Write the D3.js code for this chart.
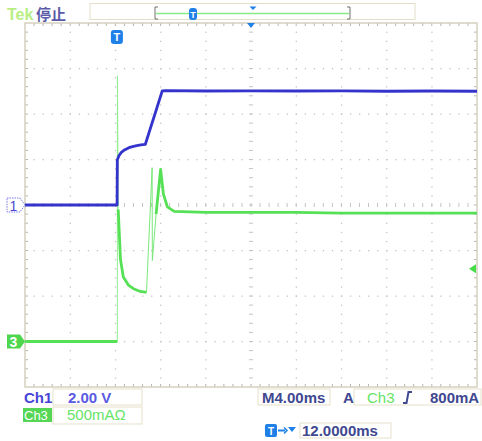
<!DOCTYPE html>
<html>
<head>
<meta charset="utf-8">
<script src="https://cdn.jsdelivr.net/npm/d3@7"></script>
<style>
  body { margin: 0; background: #fff; }
  svg { display: block; font-family: "Liberation Sans", Arial, sans-serif; }
</style>
</head>
<body>
<svg id="scope" width="482" height="441"></svg>
<script>
// scope settings
const timePerDiv = 4;      // ms/div
const triggerDelay = 12;   // ms, centre of screen after trigger
const ch1PerDiv = 2;       // V/div
const ch1Offset = 0;       // div
const ch3PerDiv = 0.5;     // A/div
const ch3Offset = -3;      // div
const triggerLevel = 0.8;  // A on ch3
const hDivs = 10, vDivs = 8;

// Ch1 voltage (V) vs time (ms from trigger)
const ch1Time  = [-8, -4, 0, 0.15, 0.17, 0.3, 0.5, 0.8, 1.2, 1.6, 2.0, 2.4, 2.65, 3.0, 3.5, 4.15, 4.4, 8, 12, 16, 20, 24, 28, 32];
const ch1Volts = [0, 0, 0, 0, 1.98, 2.15, 2.3, 2.42, 2.52, 2.58, 2.62, 2.65, 2.67, 3.22, 4.0, 5.02, 5.03, 5.01, 5.02, 5.01, 5.02, 5.0, 5.01, 5.0];

// Ch3 current (A) vs time (ms), null = gap in the thick trace
const ch3Time = [-8, -4, 0, 0.17, null, 0.25, 0.45, 0.7, 1.15, 1.6, 2.2, 2.75, null, 3.6, 4.0, 4.25, 4.6, 5.2, 8, 12, 16, 20, 24, 28, 32];
const ch3Amps = [0, 0, 0, 0, null, 1.45, 0.9, 0.71, 0.62, 0.58, 0.55, 0.54, null, 1.4, 1.89, 1.62, 1.48, 1.43, 1.42, 1.42, 1.42, 1.41, 1.41, 1.41, 1.41];

// thin transient strokes on Ch3
const glitchTime = [0.17, 0.18, 0.25];
const glitchAmps = [0, 2.92, 1.45];
const glitch2Time = [2.75, 3.25, 3.27, 3.6];
const glitch2Amps = [0.54, 1.91, 0.89, 1.4];

const L = 25, R = 477, T = 23, B = 387;
const svg = d3.select("#scope");

const t0 = triggerDelay - timePerDiv * hDivs / 2;
const x = d3.scaleLinear().domain([t0, t0 + timePerDiv * hDivs]).range([L, R]);
const y1 = d3.scaleLinear()
  .domain([(-vDivs / 2 - ch1Offset) * ch1PerDiv, (vDivs / 2 - ch1Offset) * ch1PerDiv])
  .range([B, T]);
const y3 = d3.scaleLinear()
  .domain([(-vDivs / 2 - ch3Offset) * ch3PerDiv, (vDivs / 2 - ch3Offset) * ch3PerDiv])
  .range([B, T]);

// grid in division units
const gx = d3.scaleLinear().domain([0, hDivs]).range([L, R]);
const gy = d3.scaleLinear().domain([0, vDivs]).range([T, B]);
const grid = svg.append("g");
const dotColor = "#c4c4c4";

// dotted lines
d3.range(1, hDivs).filter(i => i !== hDivs / 2).forEach(i => {
  d3.range(0.2, vDivs, 0.2).forEach(j => {
    grid.append("rect").attr("x", gx(i) - 0.5).attr("y", gy(j) - 0.5)
      .attr("width", 1.3).attr("height", 1.3).attr("fill", dotColor);
  });
});
d3.range(1, vDivs).filter(j => j !== vDivs / 2).forEach(j => {
  d3.range(0.2, hDivs, 0.2).forEach(i => {
    grid.append("rect").attr("x", gx(i) - 0.5).attr("y", gy(j) - 0.5)
      .attr("width", 1.3).attr("height", 1.3).attr("fill", dotColor);
  });
});
// centre cross ticks
d3.range(0.2, hDivs, 0.2).forEach(i => {
  grid.append("line").attr("x1", gx(i)).attr("x2", gx(i))
    .attr("y1", gy(vDivs / 2) - 2).attr("y2", gy(vDivs / 2) + 2)
    .attr("stroke", dotColor);
});
d3.range(0.2, vDivs, 0.2).forEach(j => {
  grid.append("line").attr("y1", gy(j)).attr("y2", gy(j))
    .attr("x1", gx(hDivs / 2) - 2).attr("x2", gx(hDivs / 2) + 2)
    .attr("stroke", dotColor);
});
// border ticks
d3.range(0.2, hDivs, 0.2).forEach(i => {
  grid.append("line").attr("x1", gx(i)).attr("x2", gx(i)).attr("y1", T).attr("y2", T + 3).attr("stroke", "#b8b4a8");
  grid.append("line").attr("x1", gx(i)).attr("x2", gx(i)).attr("y1", B).attr("y2", B - 3).attr("stroke", "#b8b4a8");
});
d3.range(0.2, vDivs, 0.2).forEach(j => {
  grid.append("line").attr("y1", gy(j)).attr("y2", gy(j)).attr("x1", L).attr("x2", L + 3).attr("stroke", "#b8b4a8");
  grid.append("line").attr("y1", gy(j)).attr("y2", gy(j)).attr("x1", R).attr("x2", R - 3).attr("stroke", "#b8b4a8");
});
grid.append("rect").attr("x", L).attr("y", T).attr("width", R - L).attr("height", B - T)
  .attr("fill", "none").attr("stroke", "#d6d0c0").attr("stroke-width", 1.5);

// traces
const blue = "#3434cc", green = "#55e055";
const zip = (ts, vs) => ts.map((t, i) => ({ t, v: vs[i] }));

const line1 = d3.line().x(d => x(d.t)).y(d => y1(d.v));
const line3 = d3.line().defined(d => d.t !== null).x(d => x(d.t)).y(d => y3(d.v));

svg.append("path").datum(zip(glitchTime, glitchAmps))
  .attr("d", line3).attr("fill", "none").attr("stroke", "#8ef08e").attr("stroke-width", 1);
svg.append("path").datum(zip(glitch2Time, glitch2Amps))
  .attr("d", line3).attr("fill", "none").attr("stroke", "#7ae87a").attr("stroke-width", 1);
svg.append("path").datum(zip(ch3Time, ch3Amps))
  .attr("d", line3).attr("fill", "none").attr("stroke", green).attr("stroke-width", 2.8)
  .attr("stroke-linejoin", "round");
svg.append("path").datum(zip(ch1Time, ch1Volts))
  .attr("d", line1).attr("fill", "none").attr("stroke", blue).attr("stroke-width", 2.8)
  .attr("stroke-linejoin", "round");

// channel ground markers
const y1g = y1(0), y3g = y3(0);
svg.append("path").attr("d", `M7,${y1g - 7}H20L25,${y1g}L20,${y1g + 7}H7Z`)
  .attr("fill", "#fff").attr("stroke", "#7a7ae6").attr("stroke-dasharray", "1.5,1");
svg.append("text").attr("x", 13.5).attr("y", y1g + 5.5).attr("text-anchor", "middle")
  .attr("font-size", 14).attr("fill", "#4a4ad0").text("1");
svg.append("path").attr("d", `M7,${y3g - 7}H20L25,${y3g}L20,${y3g + 7}H7Z`).attr("fill", "#4fd64f");
svg.append("text").attr("x", 13.5).attr("y", y3g + 5.5).attr("text-anchor", "middle")
  .attr("font-size", 14).attr("font-weight", "bold").attr("fill", "#fff").text("3");

// trigger level marker (right edge)
const yt = y3(triggerLevel);
svg.append("path").attr("d", `M469,${yt}L476,${yt - 4.5}V${yt + 4.5}Z`).attr("fill", "#44dd44");

// trigger position marker
const tBlue = "#1f80e8";
function tMark(cx, cy, w, h) {
  svg.append("rect").attr("x", cx - w / 2).attr("y", cy - h / 2).attr("width", w).attr("height", h)
    .attr("rx", 3).attr("fill", tBlue);
  svg.append("text").attr("x", cx).attr("y", cy + 4).attr("text-anchor", "middle")
    .attr("font-size", 11).attr("font-weight", "bold").attr("fill", "#fff").text("T");
}
tMark(x(0) + 1.5, 37, 12, 14);
// centre marker on top border
svg.append("path").attr("d", `M${gx(5) - 4},23H${gx(5) + 4}L${gx(5)},28Z`).attr("fill", tBlue);

// top record bar
svg.append("text").attr("x", 7).attr("y", 20).attr("font-size", 16).attr("font-weight", "bold")
  .attr("fill", "#b8ee84").text("Tek");
svg.append("text").attr("x", 36).attr("y", 20).attr("font-size", 15).attr("font-weight", "bold")
  .attr("font-family", "Noto Sans CJK SC").attr("fill", "#5a5aa8").text("停止");
svg.append("rect").attr("x", 90).attr("y", 3.5).attr("width", 325).attr("height", 16)
  .attr("fill", "#fff").attr("stroke", "#e4ddc8");
svg.append("path").attr("d", "M158,7H155V19H158M347,7H350V19H347").attr("fill", "none").attr("stroke", "#707070");
svg.append("line").attr("x1", 156).attr("x2", 349).attr("y1", 13.5).attr("y2", 13.5)
  .attr("stroke", "#86ec86").attr("stroke-width", 1.5);
svg.append("rect").attr("x", 189).attr("y", 8).attr("width", 8).attr("height", 12).attr("rx", 3).attr("fill", tBlue);
svg.append("text").attr("x", 193).attr("y", 17.5).attr("text-anchor", "middle").attr("font-size", 9)
  .attr("font-weight", "bold").attr("fill", "#fff").text("T");
svg.append("path").attr("d", "M249.5,6.5H256.5L253,10Z").attr("fill", tBlue);

// readouts
const readBox = (x0, y0, w, h) => svg.append("rect").attr("x", x0).attr("y", y0).attr("width", w).attr("height", h)
  .attr("fill", "none").attr("stroke", "#e6dfca");
readBox(53, 389, 89, 16);
readBox(53, 407, 89, 17);
readBox(258, 389, 72, 16);
readBox(354, 389, 127, 16);
readBox(300, 423, 91, 15);

const txt = (x0, y0, s, c, extra) => {
  const t = svg.append("text").attr("x", x0).attr("y", y0).attr("font-size", 15)
    .attr("font-weight", "bold").attr("fill", c).text(s);
  if (extra) extra(t);
  return t;
};
txt(24, 403, "Ch1", "#4646d6");
txt(68, 403, "2.00 V", "#5a5ae2");
svg.append("rect").attr("x", 23).attr("y", 408).attr("width", 29).attr("height", 14).attr("fill", "#55d655");
txt(24, 420, "Ch3", "#fff", t => t.attr("font-size", 13).attr("font-weight", "normal"));
txt(67, 420, "500mA\u03A9", "#66e466", t => t.attr("font-weight", "normal").attr("font-size", 15));
txt(262, 403, "M4.00ms", "#404890");
txt(343, 403, "A", "#404890");
txt(367, 403, "Ch3", "#66e466", t => t.attr("font-weight", "normal"));
svg.append("path").attr("d", "M403,403H406.5L408.5,392H412").attr("fill", "none").attr("stroke", "#404890").attr("stroke-width", 2);
txt(430, 403, "800mA", "#404890");

svg.append("rect").attr("x", 265).attr("y", 424).attr("width", 12).attr("height", 13).attr("rx", 2).attr("fill", tBlue);
svg.append("text").attr("x", 271).attr("y", 434.5).attr("text-anchor", "middle").attr("font-size", 10)
  .attr("font-weight", "bold").attr("fill", "#fff").text("T");
svg.append("path").attr("d", "M278,430.5H285").attr("stroke", tBlue).attr("stroke-width", 2);
svg.append("path").attr("d", "M284,427.5L287,430.5L284,433.5").attr("fill", "none").attr("stroke", tBlue).attr("stroke-width", 1.5);
svg.append("path").attr("d", "M288,427H296L292,432Z").attr("fill", tBlue);
txt(302, 436, "12.0000ms", "#404890");
</script>
</body>
</html>
